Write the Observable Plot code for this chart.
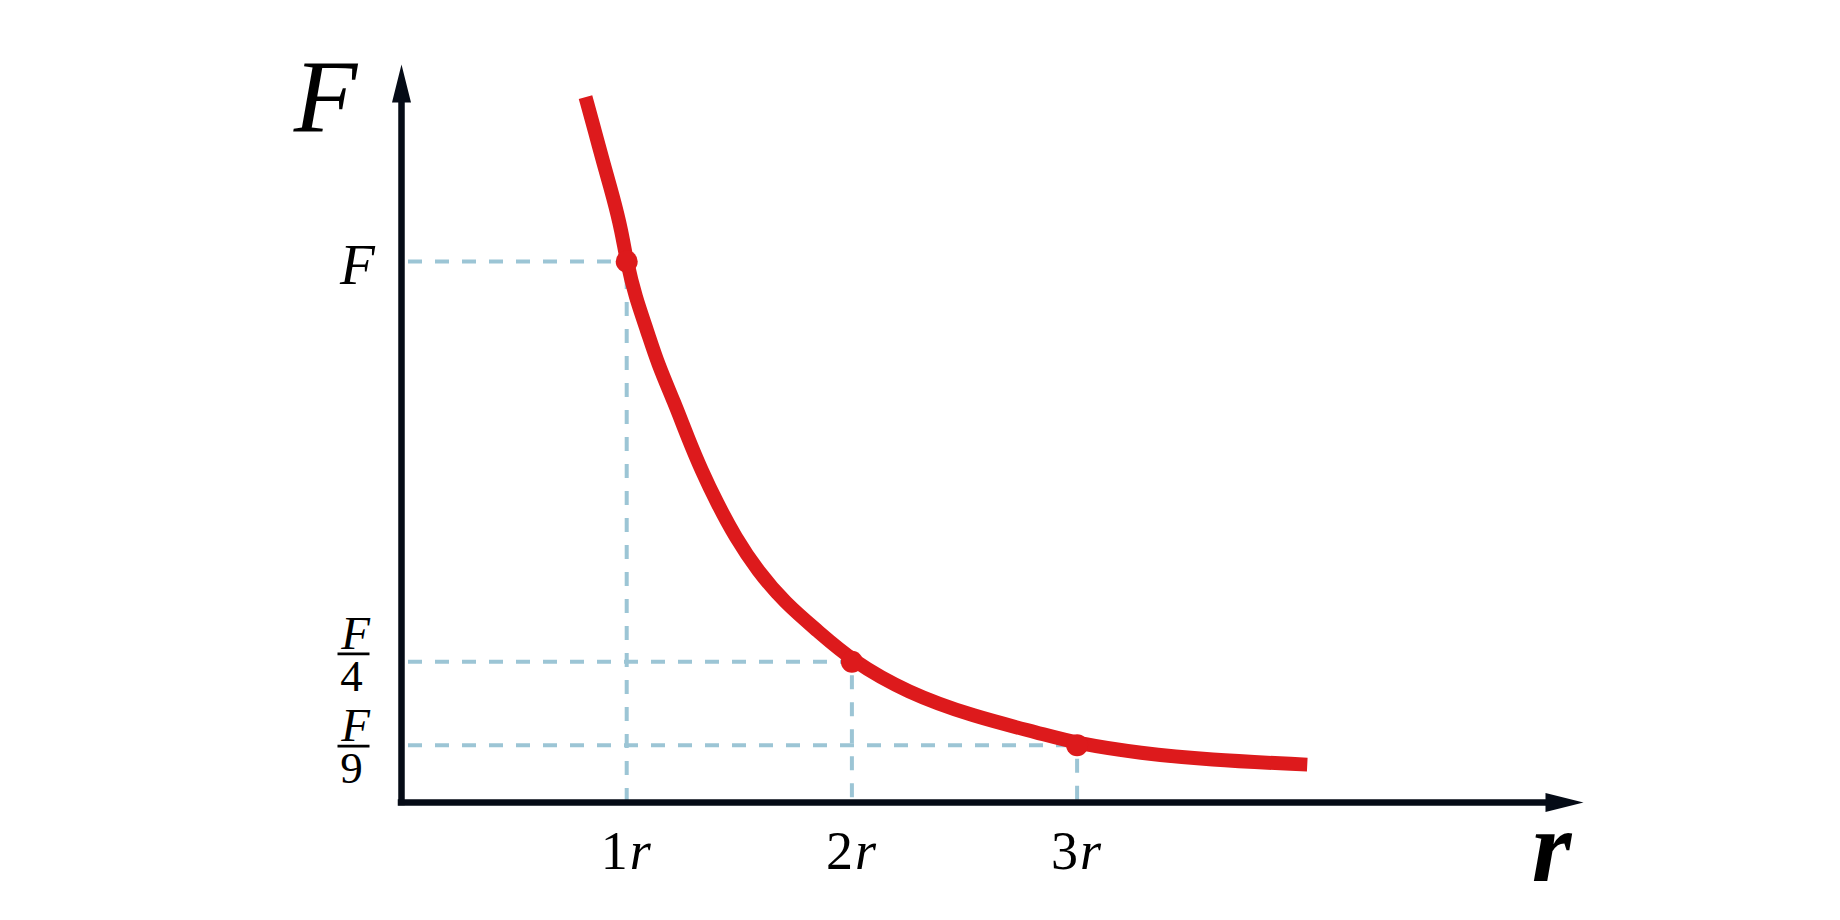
<!DOCTYPE html>
<html>
<head>
<meta charset="utf-8">
<script src="https://cdn.jsdelivr.net/npm/d3@7"></script>
<script src="https://cdn.jsdelivr.net/npm/@observablehq/plot@0.6"></script>
<style>
  html, body { margin: 0; padding: 0; background: #ffffff; }
  svg { display: block; }
</style>
</head>
<body>
<div id="chart"></div>
<script>
// ---- data ----
// hand-drawn curve F(r); r in units of r, F in units of F
const curveR = [0.817, 0.858, 0.897, 0.940, 0.977, 1.0, 1.039, 1.091, 1.138, 1.212, 1.271, 1.332, 1.402, 1.483, 1.580, 1.705, 1.846, 2.0, 2.246, 2.540, 2.837, 3.0, 3.282, 3.578, 4.022];
const curveF = [1.304, 1.242, 1.181, 1.119, 1.057, 1.0, 0.934, 0.872, 0.811, 0.739, 0.675, 0.614, 0.553, 0.490, 0.429, 0.368, 0.318, 0.262, 0.203, 0.159, 0.128, 0.109, 0.091, 0.079, 0.070];
// marked points
const markR = [1, 2, 3];
const markF = [1, 0.26, 0.106];
// tick labels
const tickDigits = ["1", "2", "3"];
const tickUnit = "r";
const yTopLabel = "F";
const fracNum = ["F", "F"];
const fracDen = ["4", "9"];
const fracLevel = [0.26, 0.106];
// axis extents
const xAxisEnd = 5.08;
const yAxisTop = 1.294;

// ---- styles ----
const red = "#dd1a1c";
const ink = "#050b16";
const dashBlue = "#9cc5d5";
const serif = "'Liberation Serif', Tinos, 'Times New Roman', Times, 'Nimbus Roman', 'Nimbus Roman No9 L', FreeSerif, serif";
const fracNudge = [-8, 1];

const curve = curveR.map((r, i) => ({r, F: curveF[i]}));
const marks = markR.map((r, i) => ({r, F: markF[i]}));
const ticks = markR.map((r, i) => ({r, digit: tickDigits[i]}));

const arrowHead = {
  draw(ctx) { ctx.moveTo(0, -38); ctx.lineTo(9.5, 0); ctx.lineTo(-9.5, 0); ctx.closePath(); }
};
const fracBar = {
  draw(ctx) { ctx.rect(-16, -1.3, 32, 2.6); }
};

const fracMarks = [];
fracLevel.forEach((lv, i) => {
  const d = [{F: lv, num: fracNum[i], den: fracDen[i]}];
  fracMarks.push(
    Plot.dot(d, {x: () => 0, y: "F", symbol: fracBar, fill: "#000", stroke: null, dx: -48, dy: fracNudge[i]}),
    Plot.text(d, {x: () => 0, y: "F", text: "num", fontFamily: serif, fontSize: 47, fontStyle: "italic", fill: "#000",
      textAnchor: "middle", lineAnchor: "bottom", dx: -46, dy: fracNudge[i] - 5}),
    Plot.text(d, {x: () => 0, y: "F", text: "den", fontFamily: serif, fontSize: 45, fill: "#000",
      textAnchor: "middle", lineAnchor: "bottom", dx: -50, dy: fracNudge[i] + 37})
  );
});

const chart = Plot.plot({
  width: 1840,
  height: 920,
  margin: 0,
  style: {background: "#ffffff", fontFamily: serif},
  x: {domain: [0, 5], range: [401, 1527], axis: null},
  y: {domain: [0, 1], range: [802, 261], axis: null},
  marks: [
    // dashed guides
    Plot.ruleY(marks, {y: "F", x1: () => 0, x2: "r", stroke: dashBlue, strokeWidth: 4, strokeDasharray: "14,13", strokeDashoffset: -7}),
    Plot.ruleX(marks, {x: "r", y1: "F", y2: () => 0, stroke: dashBlue, strokeWidth: 4, strokeDasharray: "14,13", strokeDashoffset: -14}),
    // curve
    Plot.line(curve, {x: "r", y: "F", stroke: red, strokeWidth: 14, curve: "basis", strokeLinecap: "butt", strokeLinejoin: "round"}),
    Plot.dot(marks, {x: "r", y: "F", r: 11, fill: red, stroke: null}),
    // axes
    Plot.ruleX([0], {x: d => d, y1: () => 0, y2: () => yAxisTop, stroke: ink, strokeWidth: 6.5, strokeLinecap: "square"}),
    Plot.ruleY([0], {y: d => d, x1: () => 0, x2: () => xAxisEnd, stroke: ink, strokeWidth: 6.5, strokeLinecap: "square"}),
    Plot.dot([0], {x: () => 0, y: () => yAxisTop, symbol: arrowHead, fill: ink, stroke: null}),
    Plot.dot([0], {x: () => xAxisEnd, y: () => 0, symbol: arrowHead, fill: ink, stroke: null, rotate: 90}),
    // axis titles
    Plot.text([yTopLabel], {x: () => 0, y: () => yAxisTop, text: d => d, fontFamily: serif, fontSize: 104, fontStyle: "italic", fill: "#000",
      textAnchor: "middle", lineAnchor: "bottom", dx: -76, dy: 30}),
    Plot.text([tickUnit], {x: () => xAxisEnd, y: () => 0, text: d => d, fontFamily: serif, fontSize: 102, fontStyle: "italic", fontWeight: "bold", fill: "#000",
      textAnchor: "middle", lineAnchor: "bottom", dx: 6, dy: 78}),
    // x tick labels
    Plot.text(ticks, {x: "r", y: () => 0, text: "digit", fontFamily: serif, fontSize: 54, fill: "#000",
      textAnchor: "end", lineAnchor: "bottom", dx: 1, dy: 66}),
    Plot.text(ticks, {x: "r", y: () => 0, text: () => tickUnit, fontFamily: serif, fontSize: 54, fontStyle: "italic", fill: "#000",
      textAnchor: "start", lineAnchor: "bottom", dx: 3, dy: 66}),
    // y tick label
    Plot.text([markF[0]], {x: () => 0, y: d => d, text: () => yTopLabel, fontFamily: serif, fontSize: 57, fontStyle: "italic", fill: "#000",
      textAnchor: "middle", lineAnchor: "bottom", dx: -44, dy: 22}),
    ...fracMarks
  ]
});

document.getElementById("chart").appendChild(chart);
</script>
</body>
</html>
